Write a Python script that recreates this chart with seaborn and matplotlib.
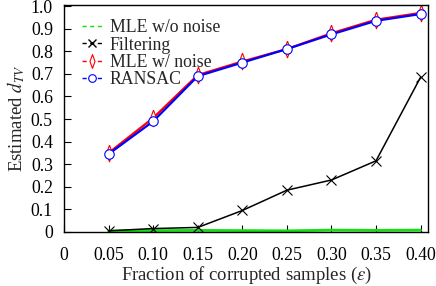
import matplotlib
matplotlib.use("Agg")
import matplotlib.pyplot as plt
import seaborn as sns
import pandas as pd
from matplotlib.lines import Line2D

eps = [0.05, 0.10, 0.15, 0.20, 0.25, 0.30, 0.35, 0.40]
mle_wo_noise = [0.004, 0.006, 0.007, 0.006, 0.005, 0.008, 0.007, 0.008]
filtering = [0.005, 0.015, 0.02, 0.095, 0.185, 0.23, 0.315, 0.685]
mle_w_noise = [0.35, 0.505, 0.695, 0.755, 0.81, 0.88, 0.94, 0.97]
ransac = [0.345, 0.49, 0.69, 0.75, 0.81, 0.875, 0.935, 0.965]
xticks = [0, 0.05, 0.10, 0.15, 0.20, 0.25, 0.30, 0.35, 0.40]
xticklabels = ["0", "0.05", "0.10", "0.15", "0.20", "0.25", "0.30", "0.35", "0.40"]
yticks = [0, 0.1, 0.2, 0.3, 0.4, 0.5, 0.6, 0.7, 0.8, 0.9, 1.0]
yticklabels = ["0", "0.1", "0.2", "0.3", "0.4", "0.5", "0.6", "0.7", "0.8", "0.9", "1.0"]
names = ["MLE w/o noise", "Filtering", "MLE w/ noise", "RANSAC"]

sns.set_style("ticks")
plt.rcParams['font.family'] = ['Liberation Serif', 'DejaVu Serif']
plt.rcParams['mathtext.fontset'] = 'stix'

df = pd.DataFrame({"eps": eps * 4,
                   "val": mle_wo_noise + filtering + mle_w_noise + ransac,
                   "method": sum([[n] * len(eps) for n in names], [])})

thin_diamond = [(0, 1), (0.36, 0), (0, -1), (-0.36, 0), (0, 1)]

fig = plt.figure(figsize=(4.36, 2.86), dpi=100)
ax = fig.add_axes([0.147, 0.189, 0.835, 0.7935])

styles = {
    "MLE w/o noise": dict(color="#11e011", marker=None, lw=2.0, ms=0, mfc="none"),
    "Filtering": dict(color="black", marker="x", lw=1.1, ms=7, mfc="none"),
    "MLE w/ noise": dict(color="red", marker=thin_diamond, lw=1.6, ms=12, mfc="white"),
    "RANSAC": dict(color="blue", marker="o", lw=1.6, ms=6.8, mfc="white"),
}
for n in names:
    s = styles[n]
    sub = df[df.method == n]
    sns.lineplot(data=sub, x="eps", y="val", ax=ax, color=s["color"], lw=s["lw"],
                 marker=s["marker"], markersize=s["ms"], markerfacecolor=s["mfc"],
                 markeredgecolor=s["color"], markeredgewidth=0.8, legend=False)

ax.set_xlim(0, 0.4085)
ax.set_ylim(0, 1.005)
ax.set_xticks(xticks)
ax.set_xticklabels(xticklabels)
ax.set_yticks(yticks)
ax.set_yticklabels(yticklabels)
ax.tick_params(direction="in", length=5, width=0.8, labelsize=12.8, colors="black")
ax.tick_params(axis="x", pad=11)
ax.tick_params(axis="y", pad=8)
ax.set_xlabel(r"Fraction of corrupted samples ($\epsilon$)", fontsize=13.5, labelpad=0.5)
ax.set_ylabel(r"Estimated $d_{TV}$", fontsize=13.5, labelpad=3)
for sp in ax.spines.values():
    sp.set_visible(True)
    sp.set_linewidth(1.0)
    sp.set_color("black")

dash = (3, 2.5)
handles = [
    Line2D([], [], color="#11e011", ls=(0, dash), lw=1.0),
    Line2D([], [], color="black", ls=(0, dash), lw=1.0, marker="x", ms=6),
    Line2D([], [], color="red", ls=(0, dash), lw=1.0, marker=thin_diamond, ms=10, mfc="white", mew=0.8),
    Line2D([], [], color="blue", ls=(0, dash), lw=1.0, marker="o", ms=5.5, mfc="white", mew=0.8),
]
ax.legend(handles, names, loc="upper left", frameon=False, fontsize=12.8,
          handlelength=1.18, handletextpad=0.4, labelspacing=0.02,
          bbox_to_anchor=(0.0286, 0.969), borderaxespad=0)

fig.savefig("out.png", dpi=100)
